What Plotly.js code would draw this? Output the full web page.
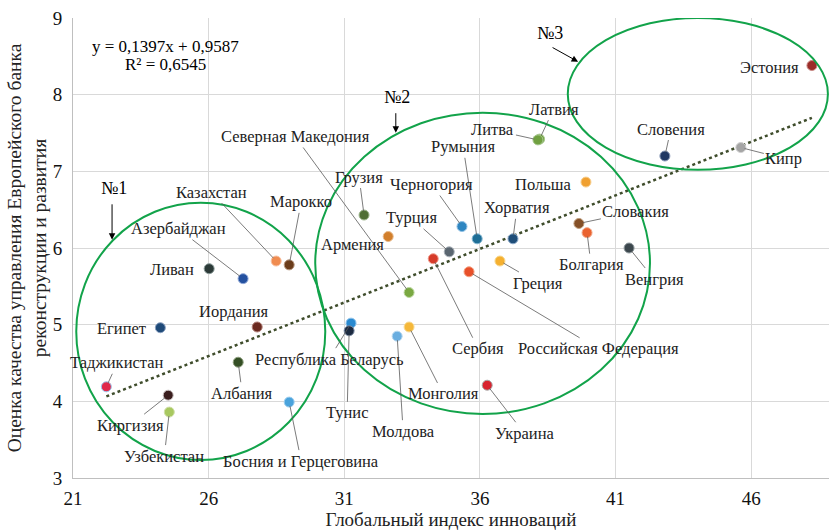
<!DOCTYPE html>
<html>
<head>
<meta charset="utf-8">
<script src="https://cdn.plot.ly/plotly-3.0.1.min.js"></script>
<style>html,body{margin:0;padding:0;background:#fff;}#chart{width:829px;height:530px;}</style>
</head>
<body>
<div id="chart"></div>
<script>
// ---- Data ----
const countries = ["Эстония","Кипр","Словения","Латвия","Литва","Польша","Словакия","Болгария","Венгрия","Хорватия","Румыния","Черногория","Турция","Сербия","Российская Федерация","Греция","Северная Македония","Армения","Грузия","Монголия","Молдова","Республика Беларусь","Тунис","Украина","Босния и Герцеговина","Марокко","Казахстан","Азербайджан","Ливан","Иордания","Египет","Албания","Таджикистан","Киргизия","Узбекистан"];
const gii = [48.24,45.62,42.82,38.2,38.14,39.91,39.65,39.95,41.5,37.22,35.9,35.34,34.87,34.28,35.6,36.74,33.39,32.62,31.73,33.39,32.95,31.25,31.18,36.27,28.97,28.97,28.49,27.27,26.02,27.79,24.22,27.09,22.23,24.51,24.55];
const ebrd = [8.38,7.31,7.2,7.42,7.41,6.86,6.32,6.2,6.0,6.12,6.12,6.28,5.95,5.86,5.69,5.83,5.42,6.15,6.43,4.97,4.85,5.02,4.92,4.21,3.99,5.78,5.83,5.6,5.73,4.97,4.96,4.51,4.19,4.08,3.86];
const colors = ["#9b2d2a","#a5a5a5","#203864","#70a040","#70a040","#f0a030","#855027","#ea6330","#3c474d","#1f4e79","#1e6e96","#2e86c1","#5a6670","#d63b2a","#e8502a","#f5b030","#7aa842","#d27f2c","#4f6e34","#f5b83a","#6aaee0","#2a8ad0","#1c2a40","#d8232f","#4aa3dc","#6b3d1c","#f08c50","#2451a0","#2c3a38","#6b2a20","#1f4a78","#344f25","#e0284a","#3a1e1e","#a8c860"];
const outlines = ["#c98a86","#d0d0d0","#8a9ab8","#a8c890","#a8c890","#f8d090","#c0a080","#f4a888","#909a9e","#8aa8c8","#7fb4d0","#90c0e4","#a8b0b8","#f09a8a","#f4a080","#f8d890","#bcd8a0","#e8b888","#a0b890","#f8dc98","#b8d8f0","#90c4ec","#8090a8","#a8a8a8","#a0d0f0","#b89880","#f8c0a0","#90a8d8","#8a9a98","#b08078","#8aa0c0","#90a080","#9ac8f0","#c8c0c0","#d0e0a8"];
// label offsets in pixels [dx right, dy down, withLeaderLine]
const labelPos = [[-42,2,0],[43,11,1],[6,-27,1],[14,-30,1],[-45,-10,1],[-43,2,0],[57,-12,1],[4,32,1],[25,31,1],[4,-31,1],[-14,-92,1],[-30,-42,1],[-38,-34,1],[45,90,1],[129,77,1],[38,22,1],[-114,-156,1],[-36,8,0],[-5,-38,1],[34,67,1],[6,95,1],[-22,36,1],[-2,82,1],[37,48,1],[12,59,1],[12,-63,1],[-65,-69,1],[-65,-50,1],[-37,1,0],[-23,-15,0],[-39,1,0],[4,31,1],[11,-24,1],[-38,30,1],[-5,44,1]];
const slope = 0.1397, intercept = 0.9587;
const xTicks = [21,26,31,36,41,46];
const yTicks = [3,4,5,6,7,8,9];

const xmin = Math.min(...gii), xmax = Math.max(...gii);
const trendX = [xmin, xmax];
const trendY = trendX.map(v => slope*v + intercept);

const serif = "'Liberation Serif', 'Times New Roman', Times, serif";

const traces = [
  {x: trendX, y: trendY, mode: "lines", line: {color: "#3f4d2c", width: 2.5, dash: "dot"}, hoverinfo: "skip"},
  {x: gii, y: ebrd, mode: "markers", text: countries,
   marker: {size: 10, color: colors, line: {color: outlines, width: 1}}}
];

const labelFont = {family: serif, size: 16.5, color: "#222"};
const annotations = countries.map((c, i) => {
  const p = labelPos[i];
  if (p[2]) {
    return {x: gii[i], y: ebrd[i], xref: "x", yref: "y", text: c, showarrow: true,
      arrowhead: 0, arrowwidth: 0.8, arrowcolor: "#595959", ax: p[0], ay: p[1], standoff: 4,
      font: labelFont};
  }
  return {x: gii[i], y: ebrd[i], xref: "x", yref: "y", text: c, showarrow: false,
    xshift: p[0], yshift: -p[1], font: labelFont};
});

// group markers
const numFont = {family: serif, size: 18, color: "#000"};
annotations.push(
  {x: 22.44, y: 6.107, xref: "x", yref: "y", text: "", showarrow: true, arrowhead: 2, arrowsize: 1.3, arrowwidth: 1, arrowcolor: "#000", ax: 0, ay: -37},
  {x: 22.44, y: 6.107, xref: "x", yref: "y", text: "№1", showarrow: false, xshift: 2, yshift: 52, font: numFont},
  {x: 32.90, y: 7.504, xref: "x", yref: "y", text: "", showarrow: true, arrowhead: 2, arrowsize: 1.3, arrowwidth: 1, arrowcolor: "#000", ax: 0, ay: -21},
  {x: 32.90, y: 7.504, xref: "x", yref: "y", text: "№2", showarrow: false, xshift: 1, yshift: 36, font: numFont},
  {x: 39.62, y: 8.43, xref: "x", yref: "y", text: "", showarrow: true, arrowhead: 2, arrowsize: 1.3, arrowwidth: 1, arrowcolor: "#000", ax: -27, ay: -15},
  {x: 39.62, y: 8.43, xref: "x", yref: "y", text: "№3", showarrow: false, xshift: -28, yshift: 29, font: numFont},
  {x: 0.122, y: 0.938, xref: "paper", yref: "paper", xanchor: "center", yanchor: "middle", text: "y = 0,1397x + 0,9587", showarrow: false, font: {family: serif, size: 17, color: "#000"}},
  {x: 0.122, y: 0.899, xref: "paper", yref: "paper", xanchor: "center", yanchor: "middle", text: "R² = 0,6545", showarrow: false, font: {family: serif, size: 17, color: "#000"}}
);

const green = "#12a34a";
const shapes = [
  {type: "circle", xref: "x", yref: "y", x0: 21.12, x1: 30.30, y0: 3.235, y1: 6.59, line: {color: green, width: 2}},
  {type: "circle", xref: "x", yref: "y", x0: 29.93, x1: 42.27, y0: 3.836, y1: 7.765, line: {color: green, width: 2}},
  {type: "circle", xref: "x", yref: "y", x0: 39.24, x1: 48.83, y0: 7.02, y1: 9.0, line: {color: green, width: 2}}
];

const layout = {
  width: 829, height: 530,
  margin: {l: 73, r: 0, t: 18, b: 52},
  paper_bgcolor: "#fff", plot_bgcolor: "#fff",
  showlegend: false,
  font: {family: serif, color: "#000"},
  xaxis: {range: [21, 48.87], tickvals: xTicks, ticktext: xTicks.map(String), showgrid: true, gridcolor: "#d9d9d9", gridwidth: 1,
    zeroline: false, showline: true, linecolor: "#bfbfbf", linewidth: 1, ticks: "", ticklabelstandoff: 3,
    tickfont: {family: serif, size: 19, color: "#111"},
    title: {text: "Глобальный индекс инноваций", font: {family: serif, size: 19, color: "#222"}, standoff: 4}},
  yaxis: {range: [3, 9], tickvals: yTicks, ticktext: yTicks.map(String), showgrid: true, gridcolor: "#d9d9d9", gridwidth: 1,
    zeroline: false, showline: true, linecolor: "#bfbfbf", linewidth: 1, ticks: "", ticklabelstandoff: 6,
    tickfont: {family: serif, size: 19, color: "#111"},
    title: {text: "Оценка качества управления Европейского банка<br>реконструкции и развития", font: {family: serif, size: 19.5, color: "#222"}, standoff: 0}},
  annotations: annotations,
  shapes: shapes
};

Plotly.newPlot("chart", traces, layout, {displayModeBar: false, staticPlot: true});
</script>
</body>
</html>
